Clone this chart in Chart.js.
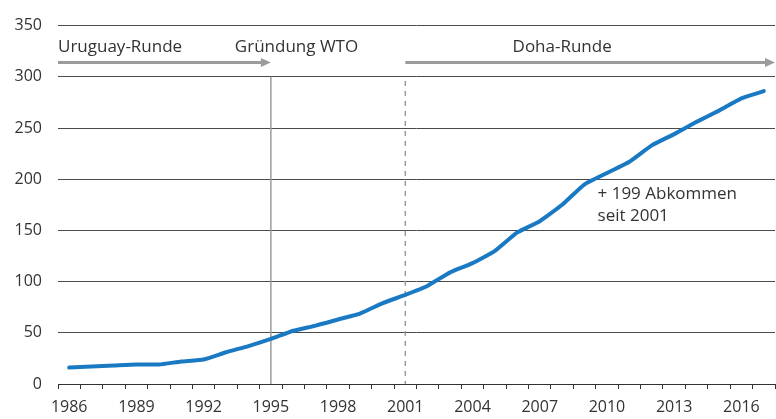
<!DOCTYPE html>
<html>
<head>
<meta charset="utf-8">
<script src="https://cdn.jsdelivr.net/npm/chart.js@4.4.1/dist/chart.umd.min.js"></script>
<style>
  html, body { margin: 0; padding: 0; background: #fff; }
  #wrap { width: 776px; height: 419px; position: relative; }
</style>
</head>
<body>
<div id="wrap"><canvas id="chart"></canvas></div>
<script>
// regional trade agreements in force, per year
const years = [
  "1986", "1987", "1988", "1989", "1990", "1991", "1992", "1993",
  "1994", "1995", "1996", "1997", "1998", "1999", "2000", "2001",
  "2002", "2003", "2004", "2005", "2006", "2007", "2008", "2009",
  "2010", "2011", "2012", "2013", "2014", "2015", "2016", "2017"
]
const agreements = [
  16, 17, 18, 19, 19, 22, 24, 31,
  37, 44, 52, 57, 63, 69, 79, 87,
  96, 109, 118, 130, 148, 159, 175, 195,
  206, 217, 233, 244, 256, 267, 279, 286
]
const yTicks = [0, 50, 100, 150, 200, 250, 300, 350]
const labelledYears = ["1986", "1989", "1992", "1995", "1998", "2001", "2004", "2007", "2010", "2013", "2016"]

const FONT = "'Open Sans', sans-serif"
const TEXT = "#333333"
const GREY = "#9b9b9b"

const phasesPlugin = {
  id: "phases",
  beforeDatasetsDraw(chart) {
    const { ctx, scales: { x, y } } = chart
    const bottom = y.getPixelForValue(0)
    ctx.save()
    // founding of the WTO
    ctx.strokeStyle = GREY
    ctx.lineWidth = 1.5
    ctx.beginPath()
    ctx.moveTo(x.getPixelForValue(9), y.getPixelForValue(300))
    ctx.lineTo(x.getPixelForValue(9), bottom)
    ctx.stroke()
    // start of Doha round
    ctx.setLineDash([5, 5])
    ctx.beginPath()
    ctx.moveTo(x.getPixelForValue(15), y.getPixelForValue(296))
    ctx.lineTo(x.getPixelForValue(15), bottom)
    ctx.stroke()
    ctx.restore()
  },
  afterDatasetsDraw(chart) {
    const { ctx, chartArea, scales: { x, y } } = chart
    const arrowY = y.getPixelForValue(314)
    const textY = y.getPixelForValue(329)

    const arrow = (x0, x1) => {
      ctx.strokeStyle = GREY
      ctx.fillStyle = GREY
      ctx.lineWidth = 3
      ctx.beginPath()
      ctx.moveTo(x0, arrowY)
      ctx.lineTo(x1 - 8, arrowY)
      ctx.stroke()
      ctx.beginPath()
      ctx.moveTo(x1, arrowY)
      ctx.lineTo(x1 - 10, arrowY - 4.5)
      ctx.lineTo(x1 - 10, arrowY + 4.5)
      ctx.closePath()
      ctx.fill()
    }

    ctx.save()
    arrow(chartArea.left, x.getPixelForValue(9))
    arrow(x.getPixelForValue(15), chartArea.right)

    ctx.fillStyle = TEXT
    ctx.font = "17px " + FONT
    ctx.textBaseline = "middle"
    ctx.textAlign = "left"
    ctx.fillText("Uruguay-Runde", chartArea.left, textY)
    ctx.fillText("Gründung WTO", x.getPixelForValue(9) - 36, textY)
    ctx.textAlign = "center"
    ctx.fillText("Doha-Runde", x.getPixelForValue(22), textY)

    ctx.textAlign = "left"
    const noteX = x.getPixelForValue(23) + 13
    ctx.fillText("+ 199 Abkommen", noteX, y.getPixelForValue(185))
    ctx.fillText("seit 2001", noteX, y.getPixelForValue(164))
    ctx.restore()
  }
}

const ctx = document.getElementById("chart").getContext("2d")
new Chart(ctx, {
  type: "line",
  data: {
    labels: years,
    datasets: [
      {
        data: agreements,
        borderColor: "#1a79c3",
        borderWidth: 4,
        pointRadius: 0,
        tension: 0.15,
        borderCapStyle: "round",
        borderJoinStyle: "round",
        fill: false,
      },
    ],
  },
  options: {
    responsive: true,
    maintainAspectRatio: false,
    animation: false,
    devicePixelRatio: 1,
    layout: { padding: { top: 14, right: 1, left: 0, bottom: 0 } },
    plugins: {
      legend: { display: false },
      tooltip: { enabled: false },
    },
    scales: {
      x: {
        type: "category",
        offset: true,
        grid: {
          offset: true,
          drawOnChartArea: false,
          drawTicks: true,
          tickLength: 5,
          color: "#333333",
        },
        border: { display: true, color: "#333333", width: 1 },
        ticks: {
          autoSkip: false,
          maxRotation: 0,
          padding: 9,
          color: TEXT,
          font: { family: FONT, size: 16 },
          callback(value) {
            const label = this.getLabelForValue(value)
            return labelledYears.includes(label) ? label : ""
          },
        },
        afterFit(scale) { scale.height = 35 },
      },
      y: {
        min: 0,
        max: 350,
        afterBuildTicks(scale) {
          scale.ticks = yTicks.map(v => ({ value: v }))
        },
        grid: {
          color: "#4a4a4a",
          lineWidth: 1,
          drawTicks: false,
        },
        border: { display: false },
        ticks: {
          padding: 16,
          color: TEXT,
          font: { family: FONT, size: 16 },
        },
        afterFit(scale) { scale.width = 58 },
      },
    },
  },
  plugins: [phasesPlugin],
})
</script>
</body>
</html>
